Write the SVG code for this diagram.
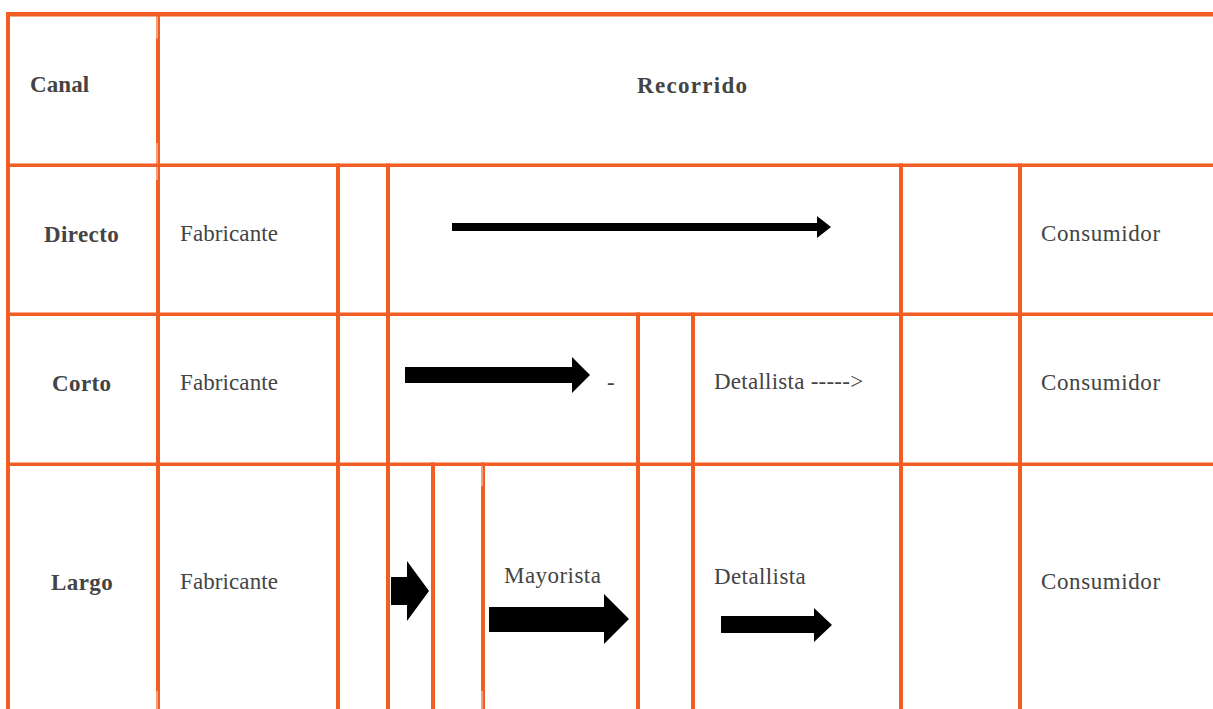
<svg xmlns="http://www.w3.org/2000/svg" width="1213" height="709" viewBox="0 0 1213 709">
<style>
.rule{fill:#F15D22}
.gap{fill:#ffffff}
.t{font-family:"Liberation Serif","Times New Roman",serif;font-size:23px;fill:#444444;letter-spacing:0.4px}
.b{font-weight:bold}
.arrow{fill:#000000}
</style>
<rect width="1213" height="709" fill="#ffffff"/>
<g id="grid">
<rect class="rule" x="6" y="12" width="1207" height="4.5"/>
<rect class="rule" x="6" y="163.5" width="1207" height="3.5"/>
<rect class="rule" x="6" y="312.5" width="1207" height="3.5"/>
<rect class="rule" x="6" y="462.5" width="1207" height="3.5"/>
<rect class="rule" x="6" y="12" width="4" height="697"/>
<rect class="rule" x="156" y="12" width="4" height="697"/>
<rect class="rule" x="336" y="163.5" width="4" height="545.5"/>
<rect class="rule" x="386" y="163.5" width="4" height="545.5"/>
<rect class="rule" x="431" y="462.5" width="4" height="246.5"/>
<rect class="rule" x="481" y="462.5" width="4" height="246.5"/>
<rect class="rule" x="636" y="312.5" width="4" height="396.5"/>
<rect class="rule" x="691" y="312.5" width="4" height="396.5"/>
<rect class="rule" x="899" y="163.5" width="4" height="545.5"/>
<rect class="rule" x="1018" y="163.5" width="4" height="545.5"/>
<rect class="gap" x="156.6" y="16.5" width="0.8" height="22"/>
<rect class="gap" x="156.6" y="143" width="0.8" height="20.5"/>
<rect class="gap" x="156.6" y="167" width="0.8" height="13"/>
<rect class="gap" x="156.6" y="691" width="0.8" height="18"/>
<rect class="gap" x="481.6" y="466" width="0.8" height="20"/>
<rect class="gap" x="481.6" y="691" width="0.8" height="18"/>
</g>
<g id="header-canal"><text class="t b" x="30" y="92" style="letter-spacing:0.1px">Canal</text></g>
<g id="header-recorrido"><text class="t b" x="637" y="93" style="letter-spacing:1.3px">Recorrido</text></g>
<g id="row-directo">
<text class="t b" x="44" y="242">Directo</text>
<g id="directo-fabricante"><text class="t" x="180" y="241" style="letter-spacing:0.1px">Fabricante</text></g>
<g id="directo-consumidor"><text class="t" x="1041" y="241" style="letter-spacing:0.6px">Consumidor</text></g>
</g>
<g id="row-corto">
<text class="t b" x="52" y="391">Corto</text>
<g id="corto-fabricante"><text class="t" x="180" y="390" style="letter-spacing:0.1px">Fabricante</text></g>
<g id="corto-dash"><text class="t" x="607" y="390">-</text></g>
<g id="corto-detallista"><text class="t" x="714" y="389" style="letter-spacing:0.25px">Detallista -----&gt;</text></g>
<g id="corto-consumidor"><text class="t" x="1041" y="390" style="letter-spacing:0.6px">Consumidor</text></g>
</g>
<g id="row-largo">
<text class="t b" x="51" y="590">Largo</text>
<g id="largo-fabricante"><text class="t" x="180" y="589" style="letter-spacing:0.1px">Fabricante</text></g>
<g id="largo-mayorista"><text class="t" x="504" y="583" style="letter-spacing:0.45px">Mayorista</text></g>
<g id="largo-detallista"><text class="t" x="714" y="584">Detallista</text></g>
<g id="largo-consumidor"><text class="t" x="1041" y="589" style="letter-spacing:0.6px">Consumidor</text></g>
</g>
<g id="connectors">
<polygon class="arrow" points="452,223 817,223 817,216 831,227 817,238 817,231 452,231"/>
<polygon class="arrow" points="405,367 572,367 572,357 590,375 572,393 572,383 405,383"/>
<polygon class="arrow" points="391,577 407,577 407,561 429,591 407,621 407,605 391,605"/>
<polygon class="arrow" points="489,607 604,607 604,594 629,619 604,644 604,632 489,632"/>
<polygon class="arrow" points="721,616 814,616 814,608 832,625 814,642 814,633 721,633"/>
</g>
</svg>
